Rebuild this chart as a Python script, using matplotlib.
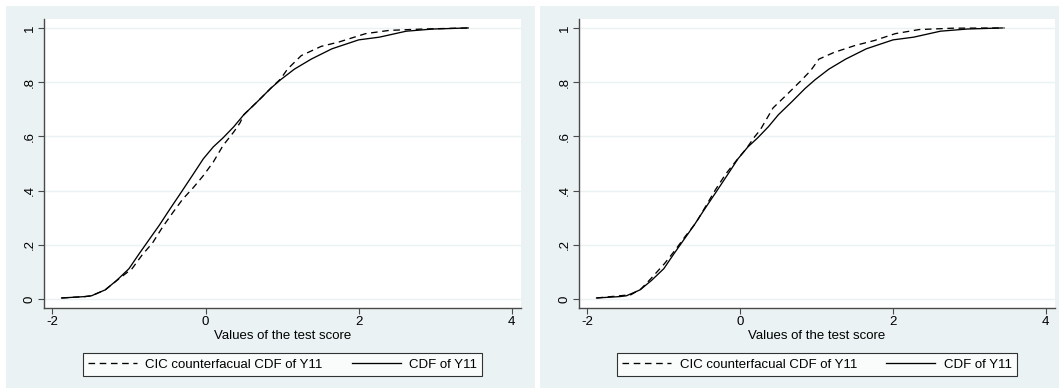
import matplotlib; matplotlib.use("Agg")
import matplotlib.pyplot as plt
from matplotlib.patches import Rectangle

plt.rcParams["font.family"] = ["Liberation Sans", "DejaVu Sans"]

# CDF of Y11 (same in both panels)
cdf_x = [-1.88, -1.58, -1.49, -1.31, -1.16, -1.00, -0.87, -0.74, -0.60, -0.47,
         -0.32, -0.16, -0.03, 0.10, 0.23, 0.37, 0.50, 0.68, 0.85, 0.98,
         1.16, 1.38, 1.65, 2.00, 2.27, 2.62, 2.97, 3.43]
cdf_y = [0.004, 0.009, 0.012, 0.034, 0.069, 0.112, 0.166, 0.218, 0.274, 0.330,
         0.393, 0.461, 0.517, 0.561, 0.595, 0.636, 0.680, 0.729, 0.777, 0.809,
         0.848, 0.885, 0.923, 0.956, 0.966, 0.988, 0.996, 1.000]

# CIC counterfactual CDF, left panel
cic1_x = [-1.88, -1.58, -1.49, -1.31, -1.13, -0.96, -0.83, -0.69, -0.56, -0.43,
          -0.30, -0.16, -0.03, 0.10, 0.23, 0.37, 0.45, 0.50, 0.68, 0.85, 0.98,
          1.07, 1.25, 1.51, 1.74, 2.09, 2.40, 2.84, 3.43]
cic1_y = [0.004, 0.009, 0.012, 0.034, 0.075, 0.112, 0.162, 0.208, 0.266, 0.318,
          0.368, 0.411, 0.455, 0.505, 0.567, 0.617, 0.650, 0.680, 0.729, 0.777, 0.812,
          0.848, 0.898, 0.932, 0.948, 0.979, 0.991, 0.996, 1.000]

# CIC counterfactual CDF, right panel
cic2_x = [-1.88, -1.43, -1.30, -1.17, -0.99, -0.85, -0.72, -0.58, -0.45, -0.32,
          -0.19, -0.05, 0.08, 0.19, 0.26, 0.43, 0.61, 0.79, 0.92, 1.03,
          1.23, 1.50, 1.76, 2.03, 2.34, 2.78, 3.46]
cic2_y = [0.004, 0.016, 0.037, 0.075, 0.131, 0.181, 0.231, 0.281, 0.343, 0.405,
          0.461, 0.511, 0.555, 0.599, 0.623, 0.705, 0.754, 0.804, 0.842, 0.885,
          0.910, 0.935, 0.954, 0.979, 0.994, 0.999, 1.000]

xticks = [-2, 0, 2, 4]
yticks = [0, 0.2, 0.4, 0.6, 0.8, 1]
ylabels = ["0", ".2", ".4", ".6", ".8", "1"]

BG = "#eaf2f3"
FS = 9.5
W, H = 1059, 388
fig = plt.figure(figsize=(W / 100, H / 100), dpi=100, facecolor="white")

# panel backgrounds (graph region)
for x0, x1 in [(6, 535), (540, 1059)]:
    fig.patches.append(Rectangle((x0 / W, 0), (x1 - x0) / W, (H - 6) / H,
                                 transform=fig.transFigure, facecolor=BG,
                                 edgecolor="none", zorder=-1))

panels = [((44, 521), cic1_x, cic1_y), ((579, 1055), cic2_x, cic2_y)]
for (px0, px1), cx, cy in panels:
    ax = fig.add_axes([px0 / W, (H - 308) / H, (px1 - px0) / W, 289 / H])
    ax.set_facecolor("white")
    ax.plot(cx, cy, color="black", lw=0.95, ls=(0, (5, 3.5)),
            label="CIC counterfacual CDF of Y11")
    ax.plot(cdf_x, cdf_y, color="black", lw=0.95, label="CDF of Y11")
    ax.set_xlim(-2.11, 4.12)
    ax.set_ylim(-0.033, 1.033)
    ax.set_xticks(xticks)
    ax.set_xticklabels([str(t) for t in xticks])
    ax.set_yticks(yticks)
    ax.set_yticklabels(ylabels, rotation=90, va="center")
    ax.grid(axis="y", color=BG, lw=1.0)
    ax.set_axisbelow(True)
    for sp in ["top", "right"]:
        ax.spines[sp].set_visible(False)
    for sp in ["left", "bottom"]:
        ax.spines[sp].set_color("#4a4a4a")
        ax.spines[sp].set_linewidth(1.0)
    ax.tick_params(direction="out", length=4, width=0.8, color="#4a4a4a",
                   labelsize=FS, pad=2)
    ax.tick_params(axis="y", pad=2)
    ax.set_xlabel("Values of the test score", fontsize=FS, labelpad=1.5)
    leg = ax.legend(ncol=2, loc="center", bbox_to_anchor=(0.5, -0.196),
                    fontsize=FS, frameon=True, fancybox=False,
                    handlelength=3.7, handletextpad=0.65, columnspacing=2.2,
                    borderpad=0.4, borderaxespad=0)
    leg.get_frame().set_edgecolor("black")
    leg.get_frame().set_linewidth(0.8)

fig.savefig("out.png", dpi=100, facecolor="white")
